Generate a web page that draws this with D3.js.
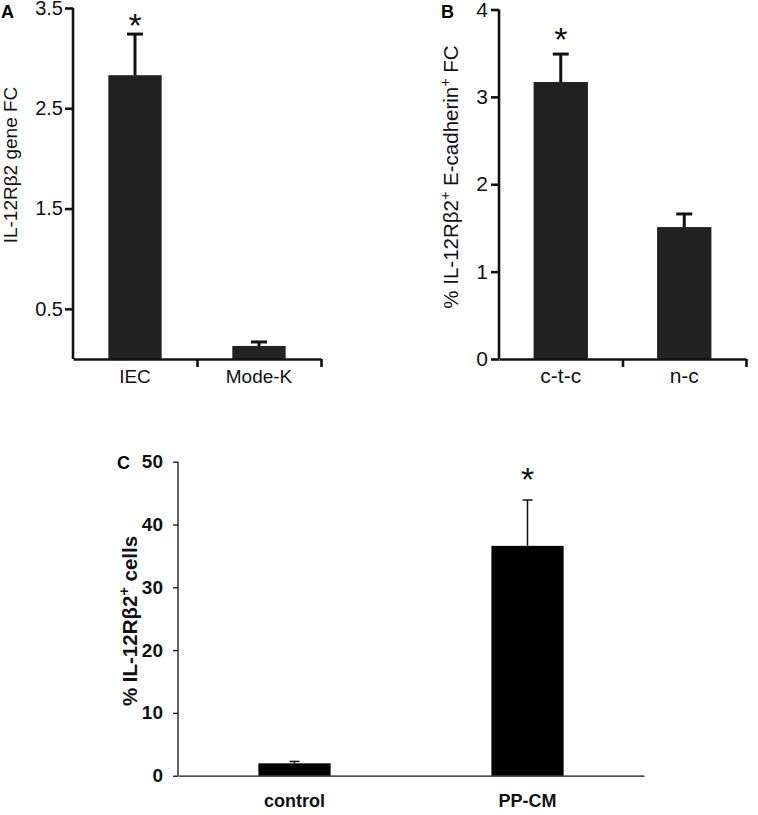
<!DOCTYPE html>
<html>
<head>
<meta charset="utf-8">
<script src="https://cdn.jsdelivr.net/npm/d3@7"></script>
<style>
  body { margin: 0; background: #fff; }
  svg { display: block; }
</style>
</head>
<body>
<div id="chart"></div>
<script>
// panel A: gene fold change
const aCategories = ["IEC", "Mode-K"];
const aValues = [2.83, 0.13];
const aErrors = [0.41, 0.04];
const aTicks = [0.5, 1.5, 2.5, 3.5];
const aStars = [true, false];

// panel B: % IL-12Rb2+ E-cadherin+ FC
const bCategories = ["c-t-c", "n-c"];
const bValues = [3.17, 1.51];
const bErrors = [0.32, 0.15];
const bTicks = [0, 1, 2, 3, 4];
const bStars = [true, false];

// panel C: % IL-12Rb2+ cells
const cCategories = ["control", "PP-CM"];
const cValues = [1.97, 36.6];
const cErrors = [0.3, 7.3];
const cTicks = [0, 10, 20, 30, 40, 50];
const cStars = [false, true];

const W = 758, H = 815;

const svg = d3.select("#chart")
    .append("svg")
    .attr("width", W)
    .attr("height", H)
    .style("font-family", "'Liberation Sans', Arial, sans-serif");

function drawPanel(p) {
    const g = svg.append("g");

    const x = d3.scaleBand()
        .domain(p.categories)
        .range(p.xRange)
        .paddingInner(p.padding)
        .paddingOuter(p.padding / 2);
    const y = d3.scaleLinear()
        .domain(p.yDomain)
        .range(p.yRange);

    // bars
    g.selectAll(".bar")
        .data(p.values)
        .join("rect")
        .attr("x", (d, i) => x(p.categories[i]))
        .attr("y", d => y(d))
        .attr("width", x.bandwidth())
        .attr("height", d => y(0) - y(d))
        .attr("fill", p.barColor);

    // error bars (upper half only)
    const cx = i => x(p.categories[i]) + x.bandwidth() / 2;
    g.selectAll(".err")
        .data(p.values)
        .join("line")
        .attr("x1", (d, i) => cx(i))
        .attr("x2", (d, i) => cx(i))
        .attr("y1", d => y(d))
        .attr("y2", (d, i) => y(d + p.errors[i]))
        .attr("stroke", "#111")
        .attr("stroke-width", p.errWidth);
    g.selectAll(".cap")
        .data(p.values)
        .join("line")
        .attr("x1", (d, i) => cx(i) - p.capHalf)
        .attr("x2", (d, i) => cx(i) + p.capHalf)
        .attr("y1", (d, i) => y(d + p.errors[i]))
        .attr("y2", (d, i) => y(d + p.errors[i]))
        .attr("stroke", "#111")
        .attr("stroke-width", p.errWidth);

    // significance stars, centred starGap px above the error cap
    g.selectAll(".star")
        .data(p.values.map((d, i) => ({ d, i })).filter(o => p.stars[o.i]))
        .join("text")
        .attr("x", o => cx(o.i))
        .attr("y", o => y(o.d + p.errors[o.i]) - p.starGap + 0.55 * p.starSize)
        .attr("text-anchor", "middle")
        .attr("font-size", p.starSize)
        .attr("fill", "#111")
        .text("*");

    // y axis
    const yAxis = g.append("g")
        .attr("transform", `translate(${p.xRange[0]},0)`)
        .call(d3.axisLeft(y)
            .tickValues(p.ticks)
            .tickSize(p.tickLen)
            .tickSizeOuter(0)
            .tickPadding(p.tickPad)
            .tickFormat(d3.format(p.tickFmt)));
    yAxis.attr("font-family", null).attr("font-size", null);
    yAxis.select(".domain")
        .attr("d", `M0,${y(p.yDomain[1])}V${y(0)}`);

    // x axis: ticks on the band boundaries
    const xb = d3.scaleLinear().domain([0, p.categories.length]).range(p.xRange);
    g.append("g")
        .attr("transform", `translate(0,${y(0)})`)
        .call(d3.axisBottom(xb)
            .tickValues(p.xTicks ? d3.range(1, p.categories.length + 1) : [])
            .tickSize(8)
            .tickSizeOuter(0)
            .tickFormat(""));

    g.selectAll(".domain, .tick line")
        .attr("stroke", "#111")
        .attr("stroke-width", p.axisWidth);
    yAxis.selectAll(".tick text")
        .attr("font-size", p.tickFont)
        .attr("font-weight", p.weight)
        .attr("fill", "#111");

    // category labels
    g.selectAll(".cat")
        .data(p.categories)
        .join("text")
        .attr("x", d => x(d) + x.bandwidth() / 2)
        .attr("y", p.catY)
        .attr("text-anchor", "middle")
        .attr("font-size", p.catFont)
        .attr("font-weight", p.weight)
        .attr("fill", "#111")
        .text(d => d);

    // y axis title
    const t = g.append("text")
        .attr("transform", `translate(${p.titleX},${p.titleY}) rotate(-90)`)
        .attr("text-anchor", "middle")
        .attr("font-size", p.titleFont)
        .attr("font-weight", p.weight)
        .attr("fill", "#111");
    p.title.forEach(part => {
        const ts = t.append("tspan").text(part.s);
        if (part.sup) ts.attr("baseline-shift", "super").attr("font-size", p.titleFont * 0.7);
    });

    // panel letter
    g.append("text")
        .attr("x", p.letterX)
        .attr("y", p.letterY)
        .attr("font-size", 18)
        .attr("font-weight", "bold")
        .attr("fill", "#000")
        .text(p.letter);
}

drawPanel({
    categories: aCategories, values: aValues, errors: aErrors, ticks: aTicks, stars: aStars,
    xRange: [73, 321], yDomain: [0, 3.5], yRange: [359, 8], padding: 0.57,
    barColor: "#222", errWidth: 3, capHalf: 8, starGap: 16, starSize: 34,
    tickLen: 8, tickPad: 2, tickFmt: ".1f", axisWidth: 2.6, xTicks: true,
    tickFont: 20, catFont: 19, catY: 383, weight: "normal",
    title: [{ s: "IL-12Rβ2 gene FC" }], titleX: 17, titleY: 165, titleFont: 19,
    letter: "A", letterX: 1, letterY: 18
});

drawPanel({
    categories: bCategories, values: bValues, errors: bErrors, ticks: bTicks, stars: bStars,
    xRange: [499, 746], yDomain: [0, 4], yRange: [359, 9.5], padding: 0.56,
    barColor: "#222", errWidth: 3, capHalf: 8, starGap: 22, starSize: 34,
    tickLen: 8, tickPad: 3, tickFmt: "d", axisWidth: 2.6, xTicks: true,
    tickFont: 21, catFont: 21, catY: 383, weight: "normal",
    title: [{ s: "% IL-12Rβ2" }, { s: "+", sup: true }, { s: " E-cadherin" }, { s: "+", sup: true }, { s: " FC" }],
    titleX: 458, titleY: 177, titleFont: 20.5,
    letter: "B", letterX: 441, letterY: 18
});

drawPanel({
    categories: cCategories, values: cValues, errors: cErrors, ticks: cTicks, stars: cStars,
    xRange: [178, 644], yDomain: [0, 50], yRange: [775.7, 461.7], padding: 0.69,
    barColor: "#000", errWidth: 1.5, capHalf: 5, starGap: 28, starSize: 34,
    tickLen: 5, tickPad: 10, tickFmt: "d", axisWidth: 1.3, xTicks: false,
    tickFont: 19, catFont: 18, catY: 807, weight: "bold",
    title: [{ s: "% IL-12Rβ2" }, { s: "+", sup: true }, { s: " cells" }],
    titleX: 137, titleY: 621, titleFont: 20.5,
    letter: "C", letterX: 117, letterY: 469
});
</script>
</body>
</html>
